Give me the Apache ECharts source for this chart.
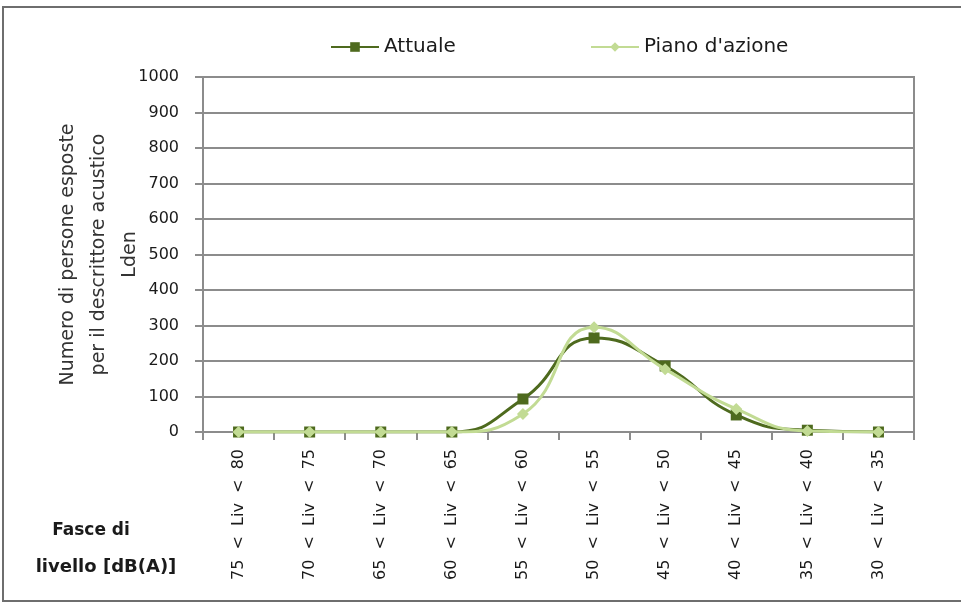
<!DOCTYPE html>
<html>
<head>
<meta charset="utf-8">
<script src="https://cdn.jsdelivr.net/npm/echarts@6/dist/echarts.min.js"></script>
<style>
  html, body { margin: 0; padding: 0; background: #fff; }
  #chart { width: 961px; height: 604px; }
</style>
</head>
<body>
<div id="chart"></div>
<script>
// Fasce di livello Lden e persone esposte
const categories = [
  '75 < Liv < 80', '70 < Liv < 75', '65 < Liv < 70', '60 < Liv < 65', '55 < Liv < 60',
  '50 < Liv < 55', '45 < Liv < 50', '40 < Liv < 45', '35 < Liv < 40', '30 < Liv < 35'
];
const attuale = [0, 0, 0, 0, 93, 265, 186, 48, 5, 0];
const pianoAzione = [0, 0, 0, 0, 51, 295, 177, 65, 3, 0];
const yTicks = [0, 100, 200, 300, 400, 500, 600, 700, 800, 900, 1000];

const FONT = 'DejaVu Sans';
const darkGreen = '#4e6a1e';
const lightGreen = '#c2db94';
const textColor = '#1a1a1a';

const chart = echarts.init(document.getElementById('chart'));
chart.setOption({
  animation: false,
  backgroundColor: '#fff',
  textStyle: { fontFamily: FONT },
  graphic: [
    {
      type: 'rect',
      shape: { x: 3, y: 7, width: 1000, height: 594 },
      style: { fill: 'none', stroke: '#6e6e6e', lineWidth: 2 }
    },
    {
      type: 'text',
      x: 91, y: 531,
      style: {
        text: 'Fasce di',
        fontFamily: FONT, fontSize: 17, fontWeight: 'bold', fill: textColor,
        align: 'center', verticalAlign: 'middle'
      }
    },
    {
      type: 'text',
      x: 106, y: 567,
      style: {
        text: 'livello [dB(A)]',
        fontFamily: FONT, fontSize: 18, fontWeight: 'bold', fill: textColor,
        align: 'center', verticalAlign: 'middle'
      }
    }
  ],
  legend: [
    {
      data: ['Attuale'],
      left: 330, top: 37, padding: 0,
      itemWidth: 48, itemHeight: 12, itemGap: 4,
      textStyle: { fontFamily: FONT, fontSize: 20, color: textColor }
    },
    {
      data: ['Piano d\'azione'],
      left: 590, top: 37, padding: 0,
      itemWidth: 48, itemHeight: 12, itemGap: 4,
      textStyle: { fontFamily: FONT, fontSize: 20, color: textColor }
    }
  ],
  grid: {
    left: 203, right: 47, top: 77, bottom: 172,
    outerBoundsMode: 'none',
    containLabel: false,
    show: true, borderColor: '#8c8c8c', borderWidth: 2
  },
  xAxis: {
    type: 'category',
    data: categories,
    boundaryGap: true,
    axisLine: { lineStyle: { color: '#8c8c8c', width: 2 } },
    axisTick: { show: true, length: 8, lineStyle: { color: '#8c8c8c', width: 2 } },
    axisLabel: {
      rotate: 90, interval: 0, margin: 17,
      fontFamily: FONT, fontSize: 16, color: textColor,
      formatter: (v) => v.split(' ').join('  ')
    }
  },
  yAxis: {
    type: 'value',
    min: yTicks[0], max: yTicks[yTicks.length - 1], interval: 100,
    name: 'Numero di persone esposte\nper il descrittore acustico\nLden',
    nameLocation: 'middle',
    nameGap: 57,
    nameMoveOverlap: false,
    nameRotate: 90,
    nameTextStyle: { fontFamily: FONT, fontSize: 19, color: '#333', lineHeight: 31 },
    axisLine: { show: true, lineStyle: { color: '#8c8c8c', width: 2 } },
    axisTick: { show: true, length: 8, lineStyle: { color: '#8c8c8c', width: 2 } },
    axisLabel: {
      margin: 24, fontFamily: FONT, fontSize: 16, color: textColor,
      formatter: (v) => String(v)
    },
    splitLine: { lineStyle: { color: '#8c8c8c', width: 2 } }
  },
  series: [
    {
      name: 'Attuale',
      type: 'line',
      data: attuale,
      smooth: 0.5,
      symbol: 'rect',
      symbolSize: 11,
      lineStyle: { color: darkGreen, width: 3 },
      itemStyle: { color: darkGreen },
      z: 3
    },
    {
      name: 'Piano d\'azione',
      type: 'line',
      data: pianoAzione,
      smooth: 0.5,
      symbol: 'diamond',
      symbolSize: 12,
      lineStyle: { color: lightGreen, width: 3 },
      itemStyle: { color: lightGreen },
      z: 4
    }
  ]
});
</script>
</body>
</html>
